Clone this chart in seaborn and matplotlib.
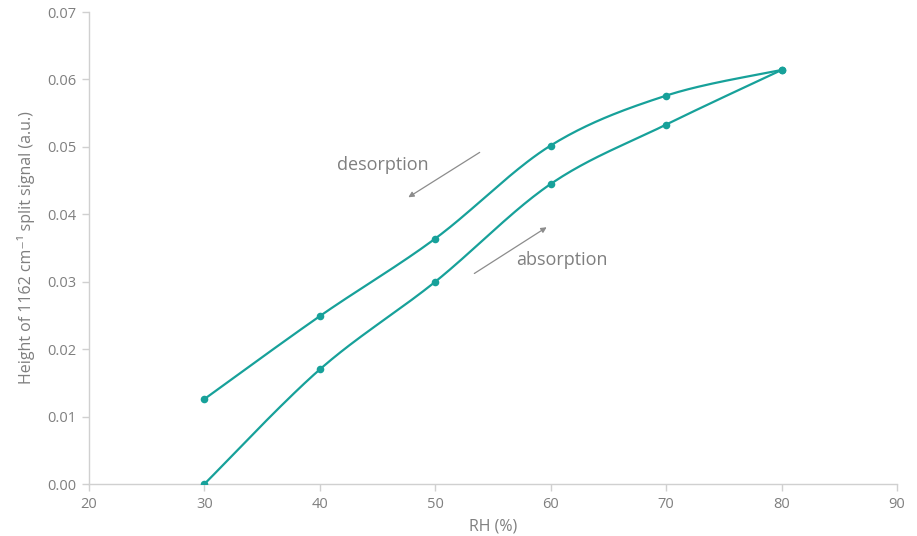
import numpy as np
import pandas as pd
import matplotlib
matplotlib.use("Agg")
import matplotlib.pyplot as plt
import seaborn as sns

rh = [30, 40, 50, 60, 70, 80]
desorption = [0.0126, 0.0249, 0.0364, 0.0502, 0.0576, 0.0614]
absorption = [0.0000, 0.0170, 0.0300, 0.0445, 0.0533, 0.0614]
x_ticks = [20, 30, 40, 50, 60, 70, 80, 90]
y_ticks = [0.00, 0.01, 0.02, 0.03, 0.04, 0.05, 0.06, 0.07]

TEAL = "#17a19a"
GREY = "#7f7f7f"

sns.set_theme(style="white")
plt.rcParams['font.family'] = ['Open Sans', 'DejaVu Sans']


def smooth(xs, ys, n=40):
    """Excel-style smoothed line: cubic Bezier with Catmull-Rom control points."""
    xs = np.asarray(xs, float)
    ys = np.asarray(ys, float)
    P = np.column_stack([xs, ys])
    out = []
    m = len(P)
    for i in range(m - 1):
        p0 = P[i - 1] if i > 0 else P[i]
        p1 = P[i]
        p2 = P[i + 1]
        p3 = P[i + 2] if i + 2 < m else P[i + 1]
        c1 = p1 + (p2 - p0) / 6.0
        c2 = p2 - (p3 - p1) / 6.0
        t = np.linspace(0, 1, n)[:, None]
        seg = ((1 - t) ** 3) * p1 + 3 * ((1 - t) ** 2) * t * c1 + 3 * (1 - t) * t ** 2 * c2 + t ** 3 * p2
        out.append(seg if i == 0 else seg[1:])
    return np.vstack(out)


fig = plt.figure(figsize=(9.17, 5.36), dpi=100)
ax = fig.add_axes([89 / 917, 1 - 484 / 536, (897 - 89) / 917, (484 - 12) / 536])

for name, ys in [("desorption", desorption), ("absorption", absorption)]:
    c = smooth(rh, ys)
    df = pd.DataFrame({"x": c[:, 0], "y": c[:, 1]})
    sns.lineplot(data=df, x="x", y="y", sort=False, color=TEAL, lw=1.6, ax=ax, estimator=None)
    sns.scatterplot(x=rh, y=ys, color=TEAL, s=30, edgecolor=TEAL, linewidth=0, ax=ax, zorder=5)

ax.set_xlim(20, 90)
ax.set_ylim(0, 0.07)
ax.set_xticks(x_ticks)
ax.set_yticks(y_ticks)
ax.set_xticklabels([str(v) for v in x_ticks])
ax.set_yticklabels([f"{v:.2f}" for v in y_ticks])

for s in ["top", "right"]:
    ax.spines[s].set_visible(False)
for s in ["left", "bottom"]:
    ax.spines[s].set_color("#d0d0d0")
    ax.spines[s].set_linewidth(1.0)

ax.tick_params(axis="both", which="major", direction="out", length=5, width=1.0,
               color="#d0d0d0", labelcolor=GREY, labelsize=10.5, pad=4)
ax.tick_params(axis="x", bottom=True)
ax.tick_params(axis="y", left=True)

ax.set_xlabel("RH (%)", color=GREY, fontsize=11.5, labelpad=5)
ax.set_ylabel("Height of 1162 cm⁻¹ split signal (a.u.)", color=GREY, fontsize=11.5, labelpad=9)

ax.annotate("", xy=(47.46, 0.0423), xytext=(54.05, 0.0494),
            arrowprops=dict(arrowstyle="-|>", color="#8c8c8c", lw=0.9, mutation_scale=8))
ax.annotate("", xy=(59.85, 0.0383), xytext=(53.18, 0.0310),
            arrowprops=dict(arrowstyle="-|>", color="#8c8c8c", lw=0.9, mutation_scale=8))
ax.text(45.47, 0.0473, "desorption", color=GREY, fontsize=13, ha="center", va="center")
ax.text(60.98, 0.0332, "absorption", color=GREY, fontsize=13, ha="center", va="center")

fig.savefig("out.png", dpi=100)
